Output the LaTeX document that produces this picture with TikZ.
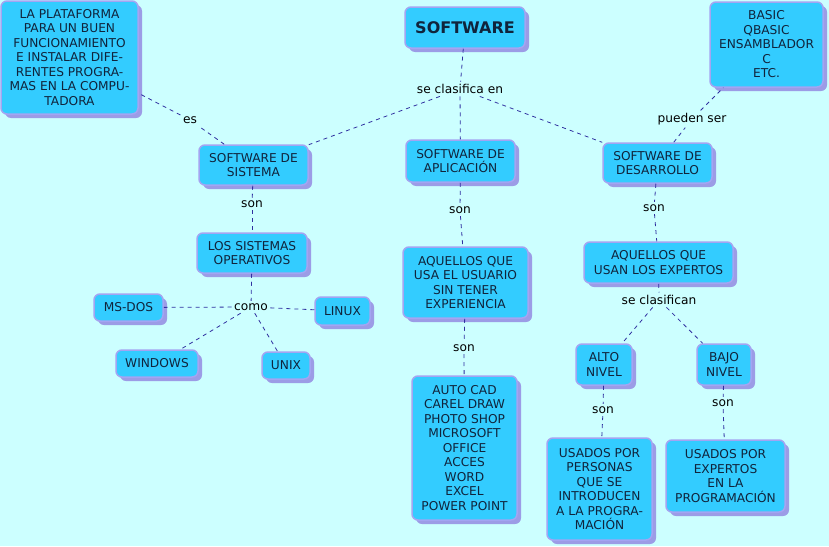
\documentclass[tikz,border=0pt]{standalone}
\usepackage{fontspec}
\setmainfont{DejaVu Sans}
\usetikzlibrary{shadows}
\definecolor{bg}{HTML}{CCFFFF}
\definecolor{boxfill}{HTML}{33CCFF}
\definecolor{boxborder}{HTML}{A4A4F2}
\definecolor{shadowc}{HTML}{9C9CE6}
\definecolor{txt}{HTML}{10243C}
\definecolor{linec}{HTML}{3030A0}
\tikzset{
  box/.style={rectangle, rounded corners=6pt, fill=boxfill, draw=boxborder, line width=1.5pt,
    align=center, text=txt, inner sep=1pt, font=\fontsize{12.2}{14.5}\selectfont,
    drop shadow={shadow xshift=4pt, shadow yshift=-4pt, fill=shadowc, opacity=1}},
  lbl/.style={inner sep=2.5pt, text=black, font=\fontsize{12.2}{14.5}\selectfont},
  conn/.style={draw=linec, line width=0.8pt, dash pattern=on 4pt off 4pt},
}
\begin{document}
\begin{tikzpicture}[x=1pt,y=-1pt]
\fill[bg] (0,0) rectangle (829,546);
\useasboundingbox (0,0) rectangle (829,546);

\node[box, minimum width=137pt, minimum height=113pt] (plat) at (69.5,57.5)
  {LA PLATAFORMA\\PARA UN BUEN\\FUNCIONAMIENTO\\E INSTALAR DIFE-\\RENTES PROGRA-\\MAS EN LA COMPU-\\TADORA};
\node[box, minimum width=120pt, minimum height=41pt, font=\fontsize{16}{19}\selectfont\bfseries] (soft) at (465,27.5) {SOFTWARE};
\node[box, minimum width=113pt, minimum height=85pt] (basic) at (766.5,44.5) {BASIC\\QBASIC\\ENSAMBLADOR\\C\\ETC.};

\node[box, minimum width=109pt, minimum height=40pt] (sist) at (253.5,165) {SOFTWARE DE\\SISTEMA};
\node[box, minimum width=109pt, minimum height=42pt] (apl) at (460.5,161) {SOFTWARE DE\\APLICACIÓN};
\node[box, minimum width=109pt, minimum height=40pt] (des) at (657.5,163) {SOFTWARE DE\\DESARROLLO};

\node[box, minimum width=110pt, minimum height=40pt] (los) at (252,253) {LOS SISTEMAS\\OPERATIVOS};
\node[box, minimum width=69pt, minimum height=27pt] (msdos) at (128.5,307.5) {MS-DOS};
\node[box, minimum width=55pt, minimum height=28pt] (linux) at (342.5,311) {LINUX};
\node[box, minimum width=82pt, minimum height=27pt] (win) at (157,363.5) {WINDOWS};
\node[box, minimum width=48pt, minimum height=27pt] (unix) at (286,365.5) {UNIX};

\node[box, minimum width=125pt, minimum height=71pt] (aq1) at (465.5,282.5) {AQUELLOS QUE\\USA EL USUARIO\\SIN TENER\\EXPERIENCIA};
\node[box, minimum width=105pt, minimum height=144pt] (auto) at (464.5,448) {AUTO CAD\\CAREL DRAW\\PHOTO SHOP\\MICROSOFT\\OFFICE\\ACCES\\WORD\\EXCEL\\POWER POINT};

\node[box, minimum width=149pt, minimum height=41pt] (aq2) at (658.5,262.5) {AQUELLOS QUE\\USAN LOS EXPERTOS};
\node[box, minimum width=56pt, minimum height=41pt] (alto) at (604,364.5) {ALTO\\NIVEL};
\node[box, minimum width=54pt, minimum height=41pt] (bajo) at (724,364.5) {BAJO\\NIVEL};
\node[box, minimum width=105pt, minimum height=102pt] (usp) at (599.5,489) {USADOS POR\\PERSONAS\\QUE SE\\INTRODUCEN\\A LA PROGRA-\\MACIÓN};
\node[box, minimum width=119pt, minimum height=72pt] (use) at (725.5,476) {USADOS POR\\EXPERTOS\\EN LA\\PROGRAMACIÓN};

% labels
\node[lbl] (lclas) at (460,89) {se clasifica en};
\node[lbl] (les) at (190,120) {es};
\node[lbl] (lpued) at (692,119) {pueden ser};
\node[lbl] (lson1) at (252,204) {son};
\node[lbl] (lson2) at (460,210) {son};
\node[lbl] (lson3) at (654,208) {son};
\node[lbl] (lcomo) at (251,307) {como};
\node[lbl] (lson4) at (464,348) {son};
\node[lbl] (lclas2) at (659,300) {se clasifican};
\node[lbl] (lson5) at (603,410) {son};
\node[lbl] (lson6) at (723,403) {son};

% connectors
\draw[conn] (soft) -- (lclas);
\draw[conn] (lclas) -- (sist);
\draw[conn] (lclas) -- (apl);
\draw[conn] (lclas) -- (des);
\draw[conn] (sist) -- (les);
\draw[conn] (les) -- (plat);
\draw[conn] (des) -- (lpued);
\draw[conn] (lpued) -- (basic);
\draw[conn] (sist) -- (lson1);
\draw[conn] (lson1) -- (los);
\draw[conn] (los) -- (lcomo);
\draw[conn] (lcomo) -- (msdos);
\draw[conn] (lcomo) -- (linux);
\draw[conn] (lcomo) -- (win);
\draw[conn] (lcomo) -- (unix);
\draw[conn] (apl) -- (lson2);
\draw[conn] (lson2) -- (aq1);
\draw[conn] (aq1) -- (lson4);
\draw[conn] (lson4) -- (auto);
\draw[conn] (des) -- (lson3);
\draw[conn] (lson3) -- (aq2);
\draw[conn] (aq2) -- (lclas2);
\draw[conn] (lclas2) -- (alto);
\draw[conn] (lclas2) -- (bajo);
\draw[conn] (alto) -- (lson5);
\draw[conn] (lson5) -- (usp);
\draw[conn] (bajo) -- (lson6);
\draw[conn] (lson6) -- (use);
\end{tikzpicture}
\end{document}
